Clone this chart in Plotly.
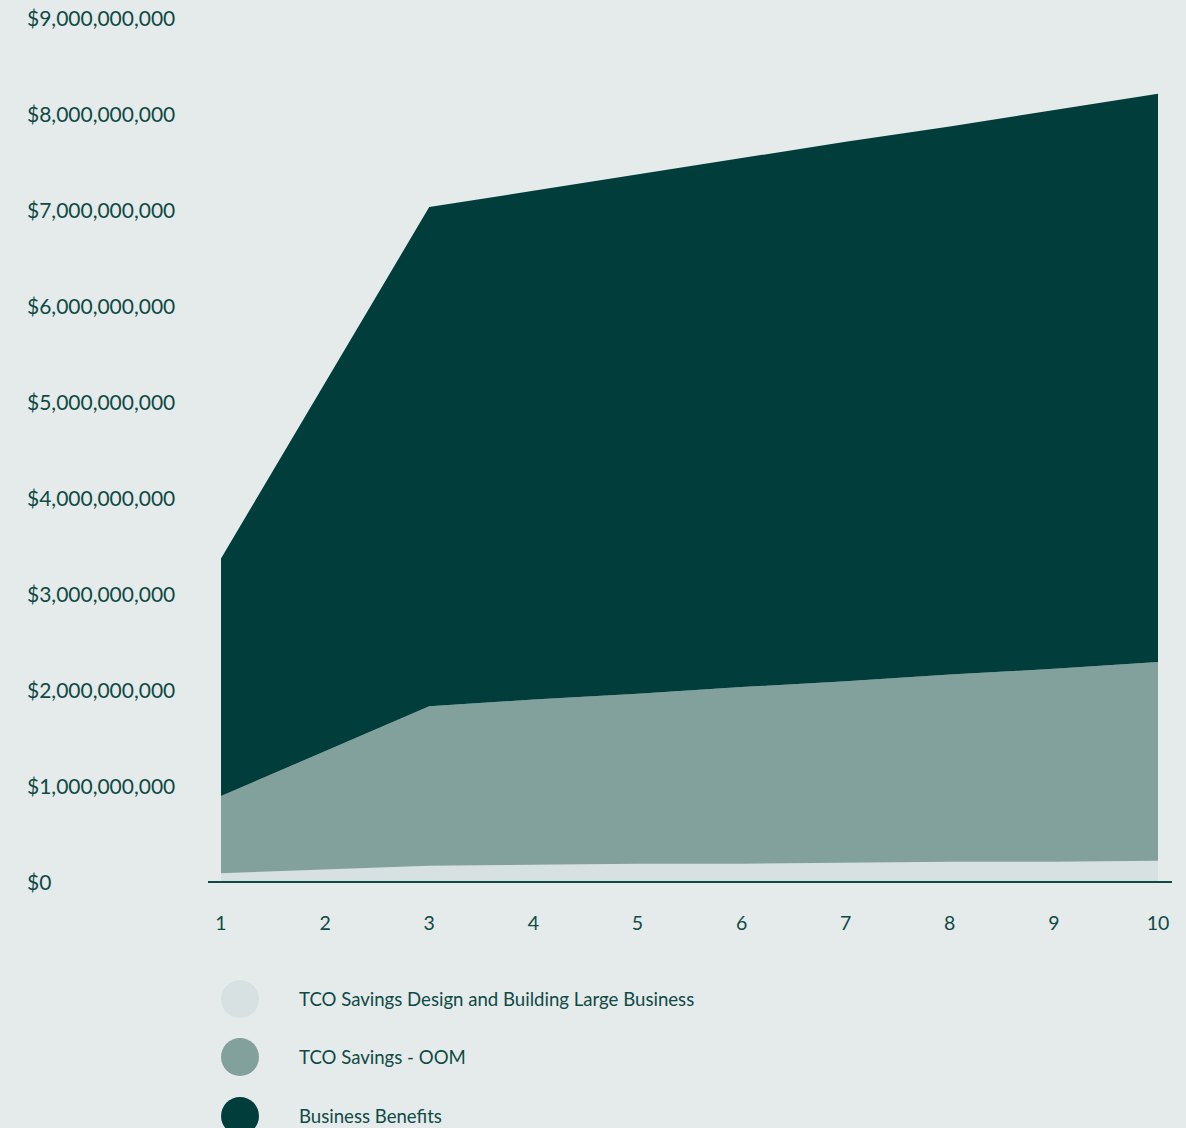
import plotly.graph_objects as go

years = [1, 2, 3, 4, 5, 6, 7, 8, 9, 10]
tco_design = [0.08e9, 0.12e9, 0.16e9, 0.17e9, 0.18e9, 0.18e9, 0.19e9, 0.20e9, 0.20e9, 0.21e9]
tco_oom = [0.805e9, 1.23e9, 1.66e9, 1.72e9, 1.77e9, 1.84e9, 1.89e9, 1.95e9, 2.01e9, 2.07e9]
business = [2.475e9, 3.84e9, 5.20e9, 5.30e9, 5.41e9, 5.51e9, 5.62e9, 5.71e9, 5.82e9, 5.92e9]

series_names = ["TCO Savings Design and Building Large Business", "TCO Savings - OOM", "Business Benefits"]
series_values = [tco_design, tco_oom, business]
series_colors = ["#d8e1e1", "#82a09c", "#003d3b"]

y_ticks = [0, 1e9, 2e9, 3e9, 4e9, 5e9, 6e9, 7e9, 8e9, 9e9]
y_tick_labels = ["$0", "$1,000,000,000", "$2,000,000,000", "$3,000,000,000", "$4,000,000,000",
                 "$5,000,000,000", "$6,000,000,000", "$7,000,000,000", "$8,000,000,000", "$9,000,000,000"]

BG = "#e5ebea"
TXT = "#0f4a45"
FONT = "Lato"

W, H = 1186, 1128
L, R, T, B = 208, 14, 17, 247
pw = W - L - R
ph = H - T - B

fig = go.Figure()
for name, vals, col in zip(series_names, series_values, series_colors):
    fig.add_trace(go.Scatter(
        x=years, y=vals, name=name, mode="lines", stackgroup="one",
        line=dict(width=0, color=col), fillcolor=col, hoverinfo="skip", showlegend=False,
    ))

annotations = []
for v, lab in zip(y_ticks, y_tick_labels):
    annotations.append(dict(
        x=(25 - L) / pw, xref="paper", y=v, yref="y", text=lab, showarrow=False,
        xanchor="left", yanchor="middle", font=dict(family=FONT, size=21, color=TXT),
    ))

shapes = []
legend_rows = [999, 1057, 1116]
for name, col, py in zip(series_names, series_colors, legend_rows):
    cy = (H - B - py) / ph
    cx = (240 - L) / pw
    shapes.append(dict(
        type="circle", xref="paper", yref="paper", xsizemode="pixel", ysizemode="pixel",
        xanchor=cx, yanchor=cy, x0=-19, x1=19, y0=-19, y1=19,
        fillcolor=col, line=dict(width=0),
    ))
    annotations.append(dict(
        x=(297 - L) / pw, xref="paper", y=cy, yref="paper", text=name, showarrow=False,
        xanchor="left", yanchor="middle", font=dict(family=FONT, size=18.6, color=TXT),
    ))

x0 = 1 - 13 / 104.1
x1 = 10 + 14 / 104.1

fig.update_layout(
    width=W, height=H,
    margin=dict(l=L, r=R, t=T, b=B),
    paper_bgcolor=BG, plot_bgcolor=BG,
    font=dict(family=FONT, color=TXT),
    showlegend=False,
    annotations=annotations,
    shapes=shapes,
    xaxis=dict(
        range=[x0, x1], tickmode="array", tickvals=years, ticktext=[str(y) for y in years],
        showgrid=False, zeroline=False, showline=True, linecolor=TXT, linewidth=2,
        ticks="outside", ticklen=24, tickcolor="rgba(0,0,0,0)",
        tickfont=dict(family=FONT, size=19.5, color=TXT), fixedrange=True,
    ),
    yaxis=dict(
        range=[0, 9e9], tickvals=y_ticks, showticklabels=False,
        showgrid=False, zeroline=False, showline=False, fixedrange=True,
    ),
)

fig.write_html(
    "out.html",
    config={"displayModeBar": False},
    post_script="document.body.style.margin='0';document.body.style.background='" + BG + "';",
)
